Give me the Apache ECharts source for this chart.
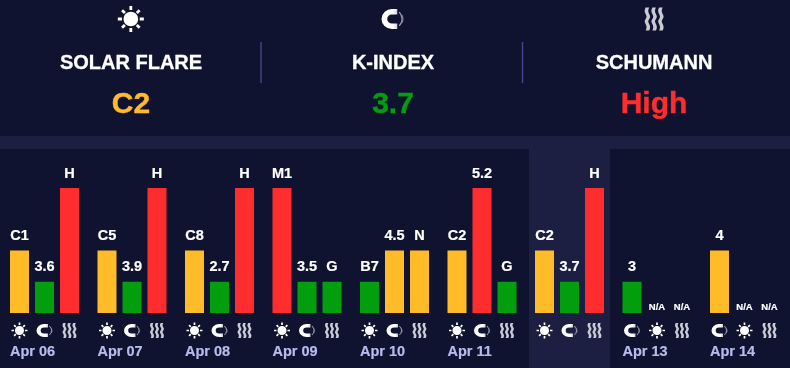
<!DOCTYPE html>
<html>
<head>
<meta charset="utf-8">
<title>Space weather</title>
<style>
    html, body { margin: 0; padding: 0; background: #0f1330; }
    #chart { width: 790px; height: 368px; }
</style>
<script src="https://cdn.jsdelivr.net/npm/echarts@6/dist/echarts.min.js"></script>
</head>
<body>
<div id="chart"></div>
<script>
// today's summary
const summaryTitles = ['SOLAR FLARE', 'K-INDEX', 'SCHUMANN'];
const summaryValues = ['C2', '3.7', 'High'];
const summaryLevels = ['mid', 'low', 'high'];
const summaryIcons = ['sun', 'magnet', 'waves'];

// forecast, three bars per day
const days = ['Apr 06', 'Apr 07', 'Apr 08', 'Apr 09', 'Apr 10', 'Apr 11', 'Apr 12', 'Apr 13', 'Apr 14'];
const highlightDay = 'Apr 12';

const firstBarValues = [2, 2, 2, 4, 1, 2, 2, 1, 2];
const secondBarValues = [1, 1, 1, 1, 2, 4, 1, 0, 0];
const thirdBarValues = [4, 4, 4, 1, 2, 1, 4, 0, 0];

const firstBarLabels = ['C1', 'C5', 'C8', 'M1', 'B7', 'C2', 'C2', '3', '4'];
const secondBarLabels = ['3.6', '3.9', '2.7', '3.5', '4.5', '5.2', '3.7', 'N/A', 'N/A'];
const thirdBarLabels = ['H', 'H', 'H', 'G', 'N', 'G', 'H', 'N/A', 'N/A'];

const firstBarIcons = ['sun', 'sun', 'sun', 'sun', 'sun', 'sun', 'sun', 'magnet', 'magnet'];
const secondBarIcons = ['magnet', 'magnet', 'magnet', 'magnet', 'magnet', 'magnet', 'magnet', 'sun', 'sun'];
const thirdBarIcons = ['waves', 'waves', 'waves', 'waves', 'waves', 'waves', 'waves', 'waves', 'waves'];

const FONT = '"Liberation Sans", Arial, sans-serif';
const BG = '#0f1330';
const PANEL = '#1c1f42';
const levelColors = { low: '#029e0e', mid: '#ffbb28', high: '#ff2d2d' };
const valueColors = { 1: levelColors.low, 2: levelColors.mid, 4: levelColors.high };

const iconPaths = {
    sun: 'M12 5.2a6.8 6.8 0 1 0 0 13.6a6.8 6.8 0 1 0 0-13.6z M10.7 0h2.6v3.8h-2.6z M10.7 20.2h2.6v3.8h-2.6z M0 10.7h3.8v2.6h-3.8z M20.2 10.7h3.8v2.6h-3.8z M3 4.8L4.8 3L7.4 5.6L5.6 7.4z M16.6 18.4L18.4 16.6L21 19.2L19.2 21z M3 19.2L5.6 16.6L7.4 18.4L4.8 21z M16.6 5.6L19.2 3L21 4.8L18.4 7.4z',
    magnet: 'M15.5 1.5H10a10.5 10.5 0 0 0 0 21h5.5v-5.8h-5.5a4.7 4.7 0 0 1 0-9.4h5.5z M18 4.5a11 11 0 0 1 0 15l-0.9-0.7a10 10 0 0 0 0-13.6z M20.6 7.5a9 9 0 0 1 0 9l-0.8-0.5a8 8 0 0 0 0-8z',
    waves: 'M4.5 1C1.5 7 7.5 8 4.5 12C1.5 16 7.5 17 4.5 23h3.2C10.7 17 4.7 16 7.7 12C10.7 8 4.7 7 7.7 1z M10.5 1C7.5 7 13.5 8 10.5 12C7.5 16 13.5 17 10.5 23h3.2C16.7 17 10.7 16 13.7 12C16.7 8 10.7 7 13.7 1z M16.5 1C13.5 7 19.5 8 16.5 12C13.5 16 19.5 17 16.5 23h3.2C22.7 17 16.7 16 19.7 12C22.7 8 16.7 7 19.7 1z'
};
const iconFills = {
    sun: '#ffffff',
    magnet: {
        type: 'linear', x: 0, y: 0, x2: 1, y2: 0,
        colorStops: [
            { offset: 0, color: '#ffffff' },
            { offset: 0.55, color: '#ffffff' },
            { offset: 1, color: '#77798c' }
        ]
    },
    waves: '#c9cad3'
};
const iconSizes = { sun: [16, 16], magnet: [16, 13], waves: [14, 15] };
const topIconSizes = { sun: [26, 26], magnet: [22, 20], waves: [19, 23] };

function barSeries (values, labels) {
    return {
        type: 'bar',
        xAxisIndex: 0,
        yAxisIndex: 0,
        barWidth: 19,
        barGap: '31.6%',
        z: 3,
        data: values.map((value, i) => ({
            value: value,
            itemStyle: { color: valueColors[value] || 'transparent' },
            label: {
                show: true,
                position: 'top',
                distance: value === 0 ? 1 : 7,
                formatter: labels[i],
                color: '#fff',
                textBorderColor: '#fff',
                textBorderWidth: 0.2,
                fontFamily: FONT,
                fontWeight: 'bold',
                fontSize: value === 0 ? 9.5 : 14.5
            }
        }))
    };
}

function iconSeries (icons, axisIndex, sizes) {
    return {
        type: 'pictorialBar',
        xAxisIndex: axisIndex,
        yAxisIndex: axisIndex,
        barWidth: 19,
        barGap: '31.6%',
        symbolPosition: 'center',
        z: 3,
        data: icons.map(icon => ({
            value: 1,
            symbol: 'path://' + iconPaths[icon],
            symbolSize: sizes[icon],
            itemStyle: { color: iconFills[icon] }
        }))
    };
}

function buildGraphic () {
    const centers = [131, 393, 654];
    const elements = [
        { type: 'rect', shape: { x: 0, y: 136, width: 790, height: 13 }, style: { fill: PANEL } },
        { type: 'rect', shape: { x: 260.3, y: 42, width: 1.4, height: 41 }, style: { fill: '#45478f' } },
        { type: 'rect', shape: { x: 521.8, y: 42, width: 1.4, height: 41 }, style: { fill: '#45478f' } }
    ];
    summaryTitles.forEach((title, i) => {
        elements.push({
            type: 'text',
            x: centers[i],
            y: 63,
            style: {
                text: title,
                fill: '#fff',
                stroke: '#fff',
                lineWidth: 0.3,
                font: 'bold 20px ' + FONT,
                textAlign: 'center',
                textVerticalAlign: 'middle'
            }
        });
        const valueColor = levelColors[summaryLevels[i]];
        elements.push({
            type: 'text',
            x: centers[i],
            y: 105,
            style: {
                text: summaryValues[i],
                fill: valueColor,
                stroke: valueColor,
                lineWidth: 0.4,
                font: 'bold 30px ' + FONT,
                textAlign: 'center',
                textVerticalAlign: 'middle'
            }
        });
    });
    return elements;
}

function hiddenCategoryAxis (gridIndex, data) {
    return {
        type: 'category',
        gridIndex: gridIndex,
        data: data,
        axisLine: { show: false },
        axisTick: { show: false },
        axisLabel: { show: false }
    };
}

const chart = echarts.init(document.getElementById('chart'), null, { renderer: 'canvas' });

chart.setOption({
    backgroundColor: BG,
    animation: false,
    tooltip: { show: false },
    graphic: buildGraphic(),
    grid: [
        { left: 0.75, width: 787.5, top: 188, height: 125 },
        { left: 0.75, width: 787.5, top: 322, height: 17 },
        { left: 0.75, width: 787.5, top: 149, height: 219 },
        { left: 0, width: 785, top: 6, height: 26 }
    ],
    xAxis: [
        hiddenCategoryAxis(0, days),
        {
            type: 'category',
            gridIndex: 1,
            data: days,
            axisLine: { show: false },
            axisTick: { show: false },
            axisLabel: {
                interval: 0,
                margin: 5,
                formatter: value => '{d|' + value + '}',
                rich: {
                    d: {
                        width: 69,
                        align: 'left',
                        color: '#b7bcec',
                        textBorderColor: '#b7bcec',
                        textBorderWidth: 0.2,
                        fontFamily: FONT,
                        fontWeight: 'bold',
                        fontSize: 14.5
                    }
                }
            }
        },
        hiddenCategoryAxis(2, days),
        hiddenCategoryAxis(3, summaryTitles)
    ],
    yAxis: [
        { type: 'value', gridIndex: 0, min: 0, max: 4, show: false },
        { type: 'value', gridIndex: 1, min: 0, max: 1, show: false },
        { type: 'value', gridIndex: 2, min: 0, max: 1, show: false },
        { type: 'value', gridIndex: 3, min: 0, max: 1, show: false }
    ],
    series: [
        {
            type: 'bar',
            xAxisIndex: 2,
            yAxisIndex: 2,
            barWidth: 81,
            z: 1,
            itemStyle: { color: PANEL },
            data: days.map(day => (day === highlightDay ? 1 : null))
        },
        barSeries(firstBarValues, firstBarLabels),
        barSeries(secondBarValues, secondBarLabels),
        barSeries(thirdBarValues, thirdBarLabels),
        iconSeries(firstBarIcons, 1, iconSizes),
        iconSeries(secondBarIcons, 1, iconSizes),
        iconSeries(thirdBarIcons, 1, iconSizes),
        iconSeries(summaryIcons, 3, topIconSizes)
    ]
});
</script>
</body>
</html>
